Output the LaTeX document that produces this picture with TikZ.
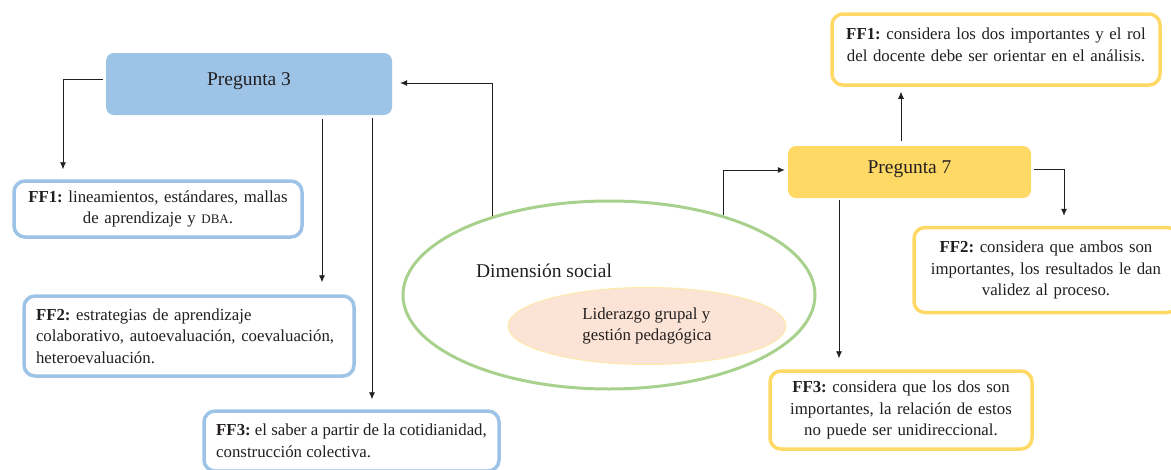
\documentclass[tikz,border=0pt]{standalone}
\usepackage{fontspec}
\setmainfont{Liberation Serif}
\usepackage{xcolor}
\usetikzlibrary{shapes.geometric,arrows.meta}
\frenchspacing

\definecolor{azul}{HTML}{9DC3E6}
\definecolor{amarillo}{HTML}{FFD966}
\definecolor{verde}{HTML}{A9D18E}
\definecolor{durazno}{HTML}{FBE4D5}
\definecolor{bordedurazno}{HTML}{FFE9A8}
\definecolor{tinta}{HTML}{231F20}

\begin{document}
\begin{tikzpicture}[x=1pt, y=-1pt, text=tinta,
  every node/.style={font=\fontsize{16.8}{21.5}\selectfont},
  pregunta/.style={rounded corners=8pt, font=\fontsize{19.5}{23}\selectfont},
  ffbox/.style={draw, line width=3.5pt, rounded corners=11pt, fill=white, inner sep=0pt},
  arr/.style={-{Latex[length=7pt,width=6pt]}, line width=0.8pt, draw=tinta}]
\useasboundingbox (0,0) rectangle (1171,469);
% Nodes
\node[pregunta, fill=azul, minimum width=286pt, minimum height=62pt, text depth=9pt] (p3) at (249,84) {Pregunta 3};
\node[ffbox, draw=azul, minimum width=288pt, minimum height=56pt, text width=280pt, align=center] (ffa) at (158,209) {\textbf{FF1:} lineamientos, estándares, mallas\\de aprendizaje y {\fontsize{13}{15}\selectfont DBA}.};
\node[ffbox, draw=azul, minimum width=330pt, minimum height=80pt, text width=306pt, align=left] (ffb) at (189,336) {\textbf{FF2:} estrategias de aprendizaje\\colaborativo, autoevaluación, coevaluación,\\heteroevaluación.};
\node[ffbox, draw=azul, minimum width=295pt, minimum height=60pt, align=left] (ffc) at (351.5,441) {\textbf{FF3:} el saber a partir de la cotidianidad,\\construcción colectiva.};

\node[ellipse, draw=verde, line width=3pt, minimum width=412pt, minimum height=188pt] (dim) at (609,295) {};
\node[font=\fontsize{19.5}{23}\selectfont] (dimtxt) at (544,271) {Dimensión social};
\node[ellipse, fill=durazno, draw=bordedurazno, line width=1pt, minimum width=278pt, minimum height=77pt, align=left] (lid) at (647,326) {Liderazgo grupal y\\gestión pedagógica};

\node[pregunta, fill=amarillo, minimum width=243pt, minimum height=52pt, text depth=9pt] (p7) at (909.5,172) {Pregunta 7};
\node[ffbox, draw=amarillo, minimum width=328pt, minimum height=71pt, text width=316pt, align=center] (ffr1) at (996,49.5) {\textbf{FF1:} considera los dos importantes y el rol\\del docente debe ser orientar en el análisis.\par\vspace*{9pt}};
\node[ffbox, draw=amarillo, minimum width=264pt, minimum height=85pt, text width=250pt, align=center] (ffr2) at (1046,270) {\textbf{FF2:} considera que ambos son\\importantes, los resultados le dan\\validez al proceso.};
\node[ffbox, draw=amarillo, minimum width=262pt, minimum height=78pt, text width=250pt, align=center] (ffr3) at (901,410) {\textbf{FF3:} considera que los dos son\\importantes, la relación de estos\\no puede ser unidireccional.};
% Arrows
\draw[arr] ([xshift=-3pt,yshift=5pt]p3.west) -| ([xshift=-95pt,yshift=10pt]ffa.north);
\draw[arr] ([xshift=73pt,yshift=-4pt]p3.south) -- ([xshift=133pt,yshift=12pt]ffb.north);
\draw[arr] ([xshift=123pt,yshift=-3pt]p3.south) -- ([xshift=20.5pt,yshift=10pt]ffc.north);
\draw[arr] (dim.146) |- ([xshift=8pt,yshift=1pt]p3.east);
\draw[arr] (dim.35) |- ([xshift=-3pt,yshift=2pt]p7.west);
\draw[arr] ([xshift=-8.5pt,yshift=5pt]p7.north) -- ([xshift=-95pt,yshift=-5pt]ffr1.south);
\draw[arr] ([xshift=3pt,yshift=3pt]p7.east) -| ([xshift=18pt,yshift=10pt]ffr2.north);
\draw[arr] ([xshift=-70.5pt,yshift=-2pt]p7.south) -- ([xshift=-62pt,yshift=11pt]ffr3.north);
\end{tikzpicture}
\end{document}
